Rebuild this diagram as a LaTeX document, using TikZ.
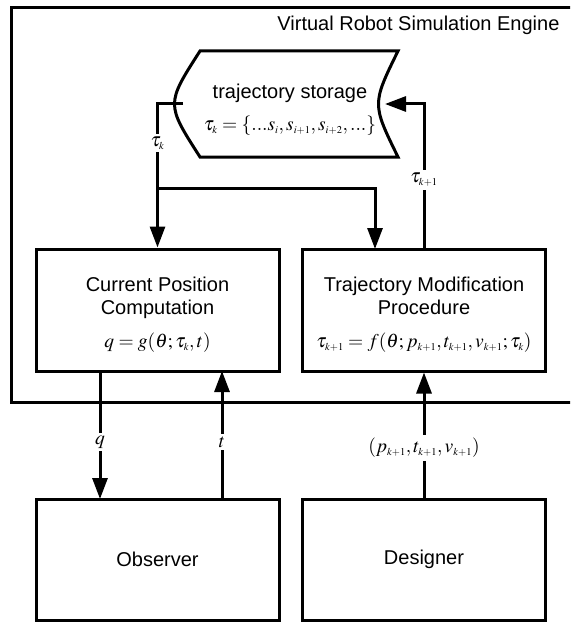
\documentclass[tikz,border=0pt]{standalone}
\usepackage{mathptmx}
\usepackage[no-math]{fontspec}
\setmainfont{Liberation Sans}
\usetikzlibrary{arrows.meta}
\DeclareMathSizes{20}{19.5}{10.5}{8}
\begin{document}
\begin{tikzpicture}[x=1pt,y=-1pt,
  every node/.style={font=\fontsize{20}{23}\selectfont},
  line/.style={line width=3pt},
  box/.style={draw,line width=3pt,minimum width=243pt,minimum height=122pt,inner sep=0pt},
  txt/.style={align=center,inner sep=0pt},
  arr/.style={line width=3pt,-{Triangle[length=21pt,width=15pt]}},
  lbl/.style={fill=white,inner sep=3pt}]
\path[use as bounding box] (0,0) rectangle (570,623);
\clip (0,0) rectangle (570,623);
% engine frame
\node[draw,line width=3pt,minimum width=580pt,minimum height=395pt,anchor=north west,inner sep=0pt] (engine) at (10,6) {};
\node[anchor=east] (enginelbl) at (563,25) {Virtual Robot Simulation Engine};
% storage
\draw[line] (200,51) -- (398,51) .. controls (372,104) .. (398,157) -- (200,157) .. controls (166,104) .. (200,51) -- cycle;
\coordinate (stL) at (183,104);
\coordinate (stR) at (385,104);
\node[txt] (storage) at (290,110) {trajectory storage\\[9pt]$\tau_k=\{...s_i,s_{i+1},s_{i+2},...\}$};
% boxes
\node[box] (cp) at (157.5,310) {};
\node[box] (tmp) at (424,310) {};
\node[txt] (cptxt) at (157.5,315) {Current Position\\Computation\\[10pt]$q=g(\theta;\tau_k,t)$};
\node[txt] (tmptxt) at (424,315) {Trajectory Modification\\Procedure\\[10pt]$\tau_{k+1}=f(\theta;p_{k+1},t_{k+1},v_{k+1};\tau_k)$};
\node[box,minimum height=121pt] (obs) at (157.5,559.5) {Observer};
\node[box,minimum height=121pt] (des) at (424,559.5) {Designer};
% connector points
\coordinate (j1) at (157.5,188);
\coordinate (tmpin) at (375,249);
\coordinate (cpq) at (100,371);
\coordinate (obsq) at (100,499);
\coordinate (cpt) at (222,371);
\coordinate (obst) at (222,499);
% connectors
\draw[arr] (stL) -| (cp.north);
\draw[arr] (j1) -| (tmpin);
\draw[arr] (tmp.north) |- (stR);
\draw[arr] (cpq) -- (obsq);
\draw[arr] (obst) -- (cpt);
\draw[arr] (des.north) -- (tmp.south);
% labels
\node[lbl] (ltauk) at (157.5,143) {$\tau_k$};
\node[lbl] (ltauk1) at (424,180) {$\tau_{k+1}$};
\node[lbl] (lq) at (100,442) {$q$};
\node[lbl] (lt) at (222,442) {$t$};
\node[lbl] (lptv) at (424,448) {$(p_{k+1},t_{k+1},v_{k+1})$};
\end{tikzpicture}
\end{document}
